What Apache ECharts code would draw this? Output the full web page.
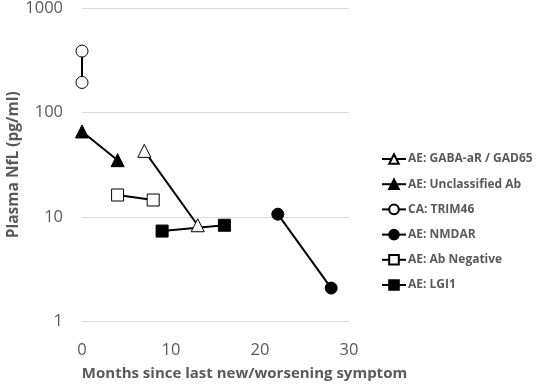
<!DOCTYPE html>
<html><head><meta charset="utf-8">
<script src="https://cdn.jsdelivr.net/npm/echarts@6/dist/echarts.min.js"></script>
<style>html,body{margin:0;padding:0;background:#fff}#c{width:536px;height:386px}</style>
</head><body><div id="c"></div>
<script>
const seriesNames = ["AE: GABA-aR / GAD65","AE: Unclassified Ab","CA: TRIM46","AE: NMDAR","AE: Ab Negative","AE: LGI1"];
const gabaData = [[7,43],[13,8.3]];
const unclassData = [[0,66],[4,35]];
const trimData = [[0,390],[0,195]];
const nmdarData = [[22,10.6],[28,2.07]];
const abNegData = [[4,16.2],[8,14.5]];
const lgi1Data = [[9,7.3],[16,8.3]];
const xTicks = [0,10,20,30];
const yTicks = [1,10,100,1000];

const fontFam = '"Open Sans", "DejaVu Sans", sans-serif';
function mk(name, data, symbol, filled, size){
  return {
    name, type:'line', data, symbol, symbolSize:size,
    lineStyle:{color:'#000', width:2},
    itemStyle:{color: filled ? '#000' : '#fff', borderColor:'#000', borderWidth:1},
    emphasis:{disabled:true}, animation:false, z: filled?3:4
  };
}
const chart = echarts.init(document.getElementById('c'));
chart.setOption({
  animation:false,
  grid:{left:82, right:187, top:8, bottom:64},
  xAxis:{type:'value', min:xTicks[0], max:xTicks[xTicks.length-1], interval:10,
    axisLine:{show:false}, axisTick:{show:false}, splitLine:{show:false},
    axisLabel:{color:'#595959', fontSize:16.5, fontFamily:fontFam, margin:21},
    name:'Months since last new/worsening symptom', nameLocation:'middle', nameGap:45,
    nameTextStyle:{color:'#595959', fontSize:15, fontWeight:'bold', fontFamily:fontFam, padding:[0,0,0,58]}},
  yAxis:{type:'log', logBase:10, min:yTicks[0], max:yTicks[yTicks.length-1],
    axisLine:{show:false}, axisTick:{show:false},
    splitLine:{show:true, lineStyle:{color:'#d9d9d9', width:1}},
    axisLabel:{color:'#595959', fontSize:16.5, fontFamily:fontFam, margin:19,
      formatter:v=>String(Math.round(v))},
    name:'Plasma NfL (pg/ml)', nameLocation:'middle', nameGap:60, nameRotate:90,
    nameTextStyle:{color:'#595959', fontSize:15.5, fontWeight:'bold', fontFamily:fontFam}},
  legend:{orient:'vertical', left:376, top:148, itemGap:13.2, itemWidth:24, itemHeight:12,
    data:seriesNames,
    textStyle:{color:'#595959', fontSize:12, fontWeight:'bold', fontFamily:fontFam, padding:[0,0,0,-3]}},
  series:[
    mk(seriesNames[0], gabaData, 'triangle', false, 13),
    mk(seriesNames[1], unclassData, 'triangle', true, 13),
    mk(seriesNames[2], trimData, 'circle', false, 12),
    mk(seriesNames[3], nmdarData, 'circle', true, 12),
    mk(seriesNames[4], abNegData, 'rect', false, 12),
    mk(seriesNames[5], lgi1Data, 'rect', true, 12)
  ]
});
</script></body></html>
